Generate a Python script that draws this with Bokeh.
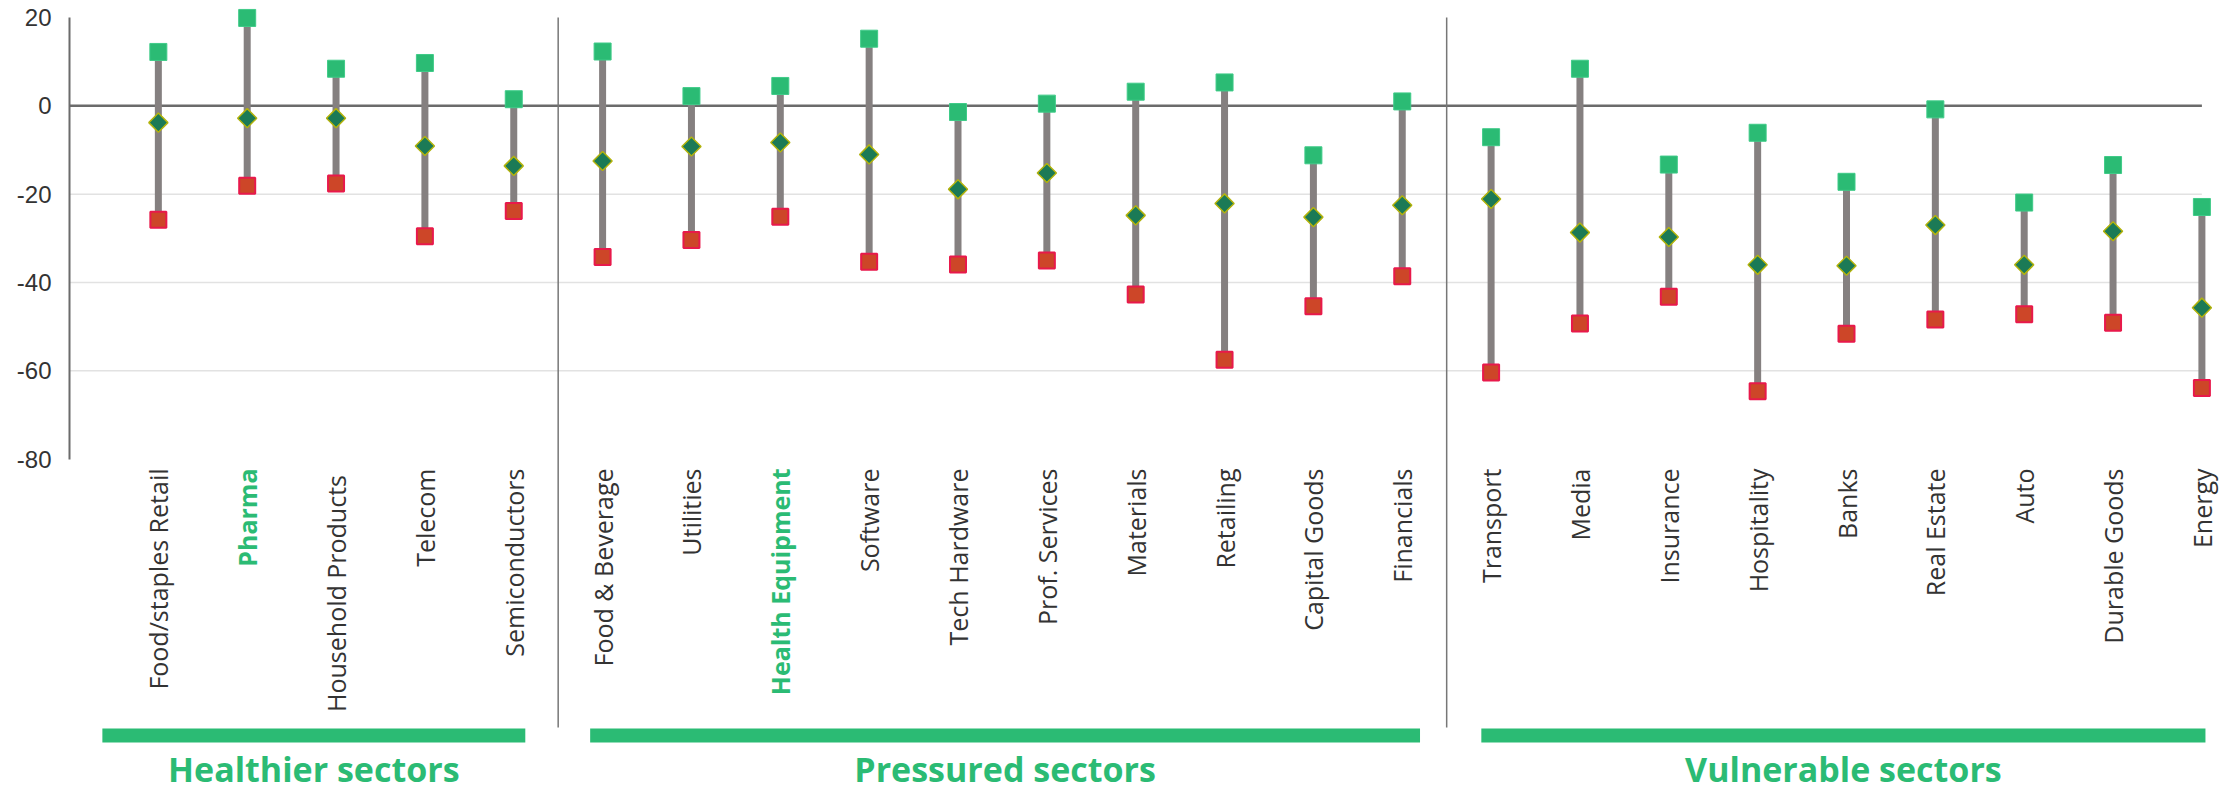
import numpy as np
from bokeh.plotting import figure
from bokeh.models import Range1d, FixedTicker
from bokeh.core.properties import value
from bokeh.embed import file_html
from bokeh.resources import INLINE

# ---------------- data ----------------
categories = [
    "Food/staples Retail", "Pharma", "Household  Products", "Telecom", "Semiconductors",
    "Food & Beverage", "Utilities", "Health Equipment", "Software", "Tech Hardware",
    "Prof. Services", "Materials", "Retailing", "Capital Goods", "Financials",
    "Transport", "Media", "Insurance", "Hospitality", "Banks", "Real Estate",
    "Auto", "Durable Goods", "Energy",
]
high = [12.2, 19.9, 8.4, 9.7, 1.5,
        12.3, 2.2, 4.5, 15.2, -1.4, 0.5, 3.2, 5.3, -11.2, 1.0,
        -7.1, 8.4, -13.3, -6.1, -17.2, -0.8, -21.9, -13.4, -22.9]
mid = [-3.8, -2.8, -2.8, -9.1, -13.6,
       -12.5, -9.2, -8.3, -11.0, -18.9, -15.2, -24.8, -22.1, -25.2, -22.5,
       -21.1, -28.7, -29.7, -36.0, -36.2, -27.0, -36.0, -28.4, -45.7]
low = [-25.8, -18.1, -17.6, -29.5, -23.8,
       -34.2, -30.4, -25.1, -35.3, -35.9, -35.0, -42.7, -57.5, -45.4, -38.6,
       -60.4, -49.3, -43.2, -64.6, -51.6, -48.4, -47.2, -49.1, -63.9]
group_names = ["Healthier sectors", "Pressured sectors", "Vulnerable sectors"]
group_sizes = [5, 10, 9]
highlighted = ["Pharma", "Health Equipment"]
y_ticks = [-80, -60, -40, -20, 0, 20]

# ---------------- layout / style ----------------
W, H = 2231, 791
LEFT, RIGHT_BORDER = 69, 4
TOP_PX = 17            # pixel row of the top tick value
PX_PER_CAT = 88.85
PX_PER_UNIT = 4.4167
GREEN = "#2BBB74"

n = len(categories)
x_start = -1.0
x_end = x_start + (W - RIGHT_BORDER - LEFT) / PX_PER_CAT
y_max_tick = max(y_ticks)
range_top = y_max_tick + TOP_PX / PX_PER_UNIT
range_bottom = range_top - H / PX_PER_UNIT


def yval(px):
    return range_top - px / PX_PER_UNIT


p = figure(width=W, height=H, x_range=Range1d(x_start, x_end),
           y_range=Range1d(range_bottom, range_top), output_backend="svg",
           toolbar_location=None, x_axis_location=None,
           min_border_left=LEFT, min_border_top=0,
           min_border_right=RIGHT_BORDER, min_border_bottom=0)
p.outline_line_color = None
p.xgrid.visible = False
p.ygrid.visible = False
p.background_fill_color = "white"
p.border_fill_color = "white"

ax = p.yaxis[0]
ax.ticker = FixedTicker(ticks=y_ticks)
ax.bounds = (min(y_ticks), max(y_ticks))
ax.major_label_overrides = {t: str(t) for t in y_ticks}
ax.axis_line_color = "#6b6b6b"
ax.axis_line_width = 2
ax.major_tick_line_color = None
ax.minor_tick_line_color = None
ax.major_tick_out = 0
ax.major_label_standoff = 18
ax.major_label_text_font = "Liberation Sans"
ax.major_label_text_font_size = "24px"
ax.major_label_text_color = "#333333"

idx = np.arange(n)
x_last = n - 1

# grid lines and zero line
grid_vals = [t for t in y_ticks if t not in (0, min(y_ticks), max(y_ticks))]
p.segment(x0=[x_start] * len(grid_vals), x1=[x_last] * len(grid_vals),
          y0=grid_vals, y1=grid_vals, line_color="#e2e2e2", line_width=1.5)
p.segment(x0=[x_start], x1=[x_last], y0=[0], y1=[0], line_color="#6b6b6b", line_width=2.5)

# group dividers, bars, titles
ends = np.cumsum(group_sizes) - 1
starts = ends - np.array(group_sizes) + 1
div_x = [e + 0.5 for e in ends[:-1]]
p.segment(x0=div_x, x1=div_x, y0=[y_max_tick] * len(div_x), y1=[yval(727)] * len(div_x),
          line_color="#777777", line_width=1.5)

pad_left = [0.63, 0.14, 0.11]
pad_right = [0.13, 0.20, 0.04]
bar_l = [s - pl for s, pl in zip(starts, pad_left)]
bar_r = [e + pr for e, pr in zip(ends, pad_right)]
p.quad(left=bar_l, right=bar_r, top=[yval(728)] * 3, bottom=[yval(742)] * 3,
       fill_color=GREEN, line_color=None)
centers = [(a + b) / 2 for a, b in zip(bar_l, bar_r)]
p.text(x=centers, y=[yval(768)] * 3, text=group_names, text_align="center",
       text_baseline="middle", text_font=value("Open Sans"),
       text_font_size="34px", text_font_style="bold", text_color=GREEN)

# category labels
norm_i = [i for i, c in enumerate(categories) if c not in highlighted]
hi_i = [i for i, c in enumerate(categories) if c in highlighted]
p.text(x=[idx[i] for i in norm_i], y=[yval(468)] * len(norm_i),
       text=[categories[i] for i in norm_i], angle=np.pi / 2,
       text_align="right", text_baseline="middle", text_font=value("Open Sans"),
       text_font_size="25px", text_color="#333333")
p.text(x=[idx[i] for i in hi_i], y=[yval(468)] * len(hi_i),
       text=[categories[i] for i in hi_i], angle=np.pi / 2,
       text_align="right", text_baseline="middle", text_font=value("Open Sans"),
       text_font_size="25px", text_font_style="bold", text_color=GREEN)

# range lines and markers
p.segment(x0=idx, x1=idx, y0=low, y1=high, line_color="#858080", line_width=7)
p.scatter(x=idx, y=high, marker="square", size=17, fill_color=GREEN,
          line_color="#3fcb88", line_width=1)
p.scatter(x=idx, y=low, marker="square", size=16, fill_color="#CD4628",
          line_color="#E8194B", line_width=2)
p.scatter(x=idx, y=mid, marker="square", angle=np.pi / 4, size=13.5,
          fill_color="#1B7A56", line_color="#B3B30C", line_width=1.5)

open("out.html", "w").write(file_html(p, INLINE))
